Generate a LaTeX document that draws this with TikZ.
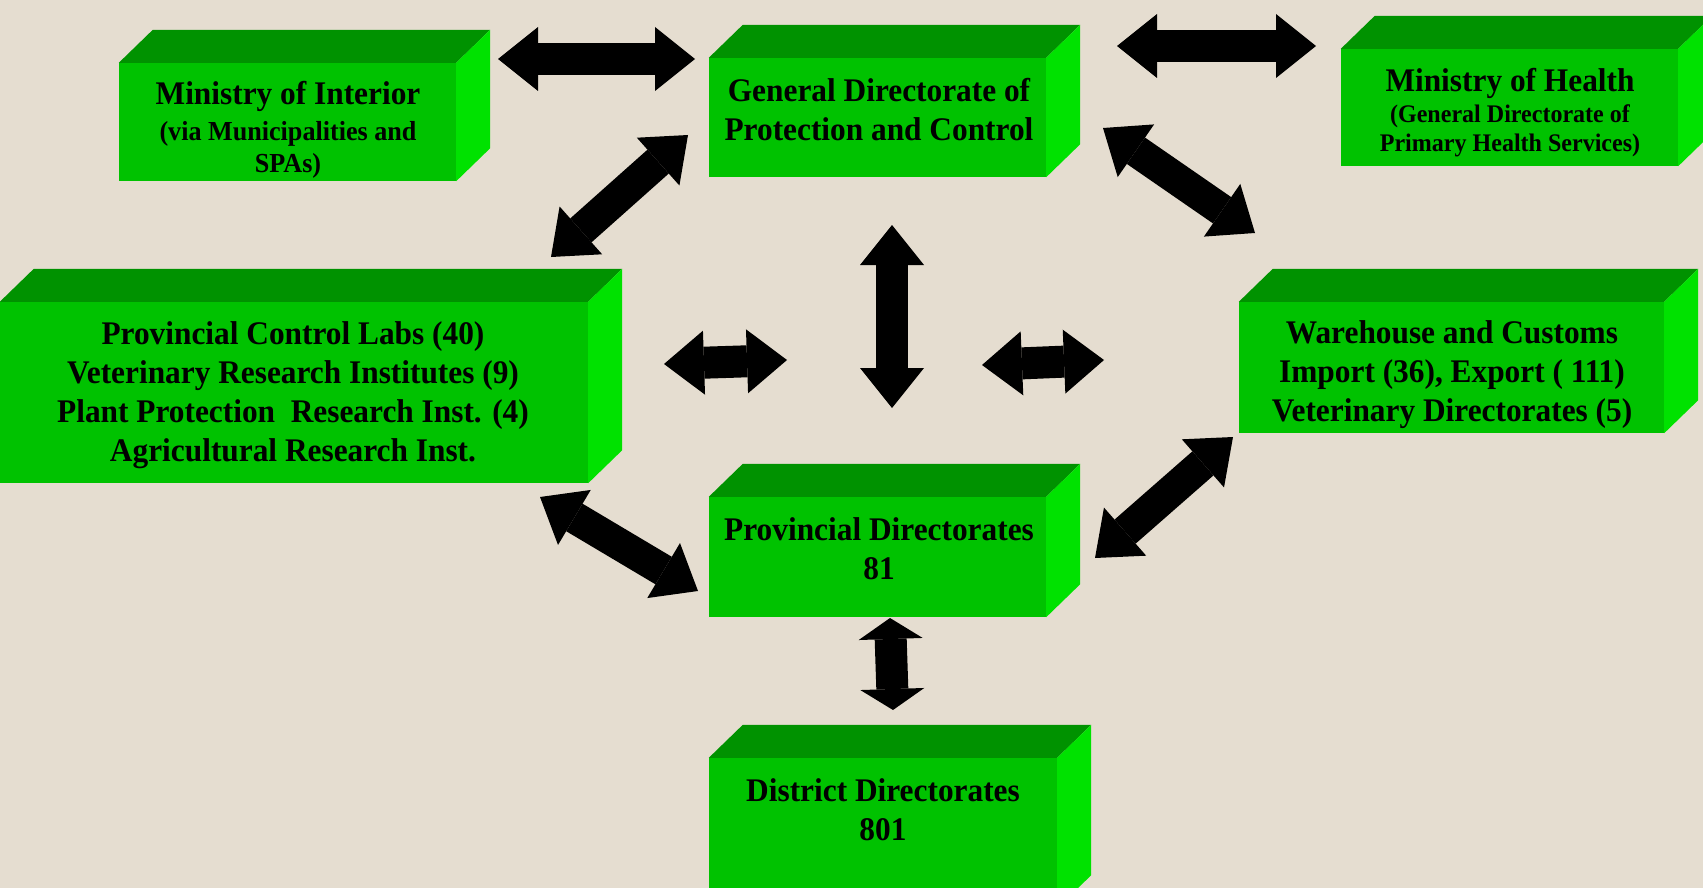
\documentclass[tikz,border=0pt]{standalone}
\usepackage{fontspec}
\setmainfont{Liberation Serif}[FakeStretch=0.95]
\usetikzlibrary{calc,arrows.meta}

\definecolor{paper}{RGB}{229,221,208}
\definecolor{frontgreen}{RGB}{0,194,0}
\definecolor{topgreen}{RGB}{0,146,0}
\definecolor{sidegreen}{RGB}{0,226,0}

\tikzset{
    face/.style={fill=frontgreen, inner sep=0pt},
    caption/.style={align=center, inner sep=0pt, font=\bfseries\fontsize{33}{39}\selectfont},
    link/.style={line width=32pt,
        {Triangle[length=40pt,width=64pt,line width=0pt]}-{Triangle[length=40pt,width=64pt,line width=0pt]}},
    shortlink/.style={line width=32pt,
        {Triangle[length=21pt,width=64pt,line width=0pt]}-{Triangle[length=21pt,width=64pt,line width=0pt]}},
}
\newcommand{\subsize}{\fontsize{27.5}{32}\selectfont}
\newcommand{\smallsize}{\fontsize{25.3}{29}\selectfont}

\begin{document}
\begin{tikzpicture}[x=1pt, y=-1pt]
    % Paper background
    \fill[paper] (0,0) rectangle (1703,888);
    \useasboundingbox (0,0) rectangle (1703,888);
    \clip (0,0) rectangle (1703,888);

    % Front faces of the blocks
    \node[face, minimum width=337pt, minimum height=118pt] (Interior) at (287.5,122) {};
    \node[face, minimum width=337pt, minimum height=119pt] (GenDir) at (877.5,117.5) {};
    \node[face, minimum width=337pt, minimum height=117pt] (Health) at (1509.5,107.5) {};
    \node[face, minimum width=588pt, minimum height=181pt] (Labs) at (294,392.5) {};
    \node[face, minimum width=425pt, minimum height=131pt] (Customs) at (1451.5,367.5) {};
    \node[face, minimum width=337pt, minimum height=120pt] (ProvDir) at (877.5,557) {};
    \node[face, minimum width=348pt, minimum height=150pt] (District) at (883,833) {};

    % Top and side faces
    \foreach \b in {Interior,GenDir,Health,Labs,Customs,ProvDir,District} {
            \fill[topgreen] (\b.north west) -- ++(34,-33) -- ($(\b.north east)+(34,-33)$) -- (\b.north east) -- cycle;
            \fill[sidegreen] (\b.north east) -- ++(34,-33) -- ($(\b.south east)+(34,-33)$) -- (\b.south east) -- cycle;
        }

    % Texts on the blocks
    \node[caption] (InteriorText) at (288,130) {Ministry of Interior\\[-3pt]{\subsize (via Municipalities and}\\[-7pt]{\subsize SPAs)}};
    \node[caption] (GenDirText) at (879,110) {General Directorate of\\Protection and Control};
    \node[caption] (HealthText) at (1510,113) {Ministry of Health\\[-8pt]{\smallsize (General Directorate of}\\[-10pt]{\smallsize Primary Health Services)}};
    \node[caption] (LabsText) at (293,395) {Provincial Control Labs (40)\\Veterinary Research Institutes (9)\\Plant Protection\ \ Research Inst. (4)\\Agricultural Research Inst.};
    \node[caption] (CustomsText) at (1452,375) {Warehouse and Customs\\Import (36), Export ( 111)\\Veterinary Directorates (5)};
    \node[caption] (ProvDirText) at (879,549) {Provincial Directorates\\81};
    \node[caption] (DistrictText) at (883,810) {District Directorates\\801};

    % Free ends of the block arrows
    \coordinate (a1) at (498,59);   \coordinate (b1) at (695,59);
    \coordinate (a2) at (1117,46);  \coordinate (b2) at (1316,46);
    \coordinate (a3) at (688,135);  \coordinate (b3) at (551,257);
    \coordinate (a4) at (1103,128); \coordinate (b4) at (1255,233);
    \coordinate (a5) at (892,225);  \coordinate (b5) at (892,408);
    \coordinate (a6) at (664,364);  \coordinate (b6) at (787,360);
    \coordinate (a7) at (982,365);  \coordinate (b7) at (1104,360);
    \coordinate (a8) at (540,497);  \coordinate (b8) at (698,591);
    \coordinate (a9) at (1233,437); \coordinate (b9) at (1095,558);
    \coordinate (a10) at (890,618); \coordinate (b10) at (893,710);

    % Draw the block arrows
    \foreach \i in {1,...,9} {
            \draw[link] (a\i) -- (b\i);
        }
    \draw[shortlink] (a10) -- (b10); % short heads
\end{tikzpicture}
\end{document}
